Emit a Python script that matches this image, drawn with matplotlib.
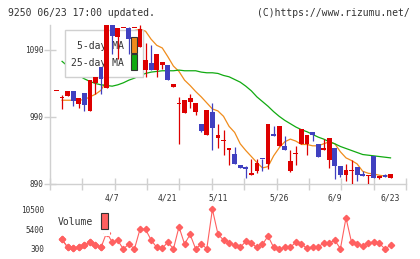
import numpy as np
import matplotlib
matplotlib.use("Agg")
import matplotlib.pyplot as plt
from matplotlib.patches import Rectangle

# daily candles (61 days, index 0..60)
opens = [1029, 1019, 1022, 1029, 1010, 1026, 999, 1040, 1065, 1034,
         1127, 1110, 1123, 1123, 1123, 1095, 1060, 1070, 1060, 1068,
         1068, 1035, 1009, 996, 1013, 998, 980, 963, 997, 959,
         955, 940, 935, 918, 916, 904, 909, 928, 920, 965,
         946, 946, 909, 935, 949, 949, 968, 950, 941, 926,
         944, 917, 904, 910, 915, 905, 902, 932, 899.5, 904,
         899.5]
closes = [1029, 1020, 1029, 1014, 1019, 1008, 1045, 1050, 1046, 1127,
          1111, 1123, 1123, 1106, 1123, 1122, 1075, 1060, 1084, 1072,
          1045, 1039, 1011, 1015, 1018, 1011, 969, 1000, 974, 963,
          956, 944, 920, 914, 913, 907, 922, 927, 980, 961,
          977, 940, 924, 936, 972, 963, 963, 930, 943, 959,
          917, 904, 911, 911, 904, 901.5, 903, 899, 902.5, 901,
          905.5]
highs = [1029, 1023, 1029, 1029, 1019, 1026, 1045, 1050, 1065, 1127,
         1127, 1123, 1123, 1124, 1123, 1127, 1101, 1097, 1084, 1072,
         1068, 1039, 1020, 1015, 1025, 1011, 980, 1000, 1011, 980,
         970, 944, 945, 918, 917, 928, 928, 928, 980, 977,
         977, 961, 941, 947, 972, 963, 968, 950, 957, 959,
         944, 917, 920, 926, 915, 910, 903, 932, 902.5, 905,
         905.5]
lows = [1029, 1002, 1022, 1006, 1003, 999, 999, 1025, 1025, 1034,
        1084, 1076, 1123, 1084, 1123, 1095, 1050, 1060, 1050, 1061,
        1045, 1035, 949, 996, 1004, 993, 968, 963, 940, 943,
        934, 919, 920, 914, 899, 904, 907, 909, 912, 961,
        946, 940, 908, 919, 949, 934, 954, 930, 941, 914,
        898, 900, 894, 890, 895, 901.5, 890, 899, 898, 901,
        899.5]

# moving averages (none for the first day)
ma5 = [np.nan, 1015, 1015, 1015, 1015, 1016, 1020, 1024, 1030, 1045,
       1065, 1090, 1108, 1116, 1119, 1121, 1118, 1106, 1097, 1093,
       1080, 1066, 1058, 1045, 1037, 1028, 1020, 1011, 1002, 999,
       991, 976, 967, 950, 940, 931, 922, 914, 916, 932,
       944, 953, 957, 954, 949, 949, 947, 947, 950, 953,
       950, 938, 929, 925, 920, 909, 906, 905, 903, 902,
       902]
ma25 = [np.nan, 1073, 1066, 1059, 1052, 1047, 1043, 1040, 1038, 1037,
        1036, 1038, 1041, 1045, 1048, 1052, 1055, 1057, 1058, 1059,
        1059, 1059, 1060, 1059, 1059, 1059, 1057, 1056, 1056, 1055,
        1052, 1050, 1046, 1042, 1036, 1029, 1020, 1013, 1006, 998,
        991, 985, 980, 975, 971, 968, 964, 960, 957, 953,
        950, 946, 943, 940, 937, 934, 933, 932, 931, 930,
        929]

volume = [np.nan, 2765, 725, 470, 725, 1320, 2000, 1235, 725, 4500,
          2085, 2510, 300, 1575, 300, 5400, 5315, 2595, 725, 470,
          2085, 300, 5995, 1575, 4040, 300, 1575, 385, 10500, 4125,
          2595, 1915, 1320, 725, 2255, 1745, 725, 1490, 3615, 725,
          300, 725, 725, 2085, 1575, 470, 895, 895, 1745, 1915,
          2510, 385, 8290, 2000, 1575, 1150, 1915, 2085, 1745, 300,
          1235]

date_pos = [10, 20, 29, 40, 50, 60]
date_labels = ["4/7", "4/21", "5/11", "5/26", "6/9", "6/23"]
price_ticks = [890, 990, 1090]
vol_ticks = [300, 5400, 10500]

RED = "#dd0000"
BLUE = "#4040c0"
ORANGE = "#f08c1c"
GREEN = "#11aa11"
VOLC = "#ff6060"
GRID = "#d0d0d0"
TXT = "#333333"
MONO = "DejaVu Sans Mono"

W, H = 420, 259
fig = plt.figure(figsize=(W / 100, H / 100), dpi=100)


def px_axes(x0, y0, x1, y1):
    return fig.add_axes([x0 / W, 1 - y1 / H, (x1 - x0) / W, (y1 - y0) / H])


x = np.arange(len(opens))
xmin, xmax = -1.17, 62.78

ax = px_axes(50, 25, 406, 184)
ax.set_xlim(xmin, xmax)
ax.set_ylim(890, 1127.3)
for s in ["top", "right"]:
    ax.spines[s].set_visible(False)
for s in ["left", "bottom"]:
    ax.spines[s].set_color(GRID)
    ax.spines[s].set_linewidth(1)

ax.plot(x, ma5, color=ORANGE, lw=0.9, zorder=2)
ax.plot(x, ma25, color=GREEN, lw=0.9, zorder=2)

# legend box (under the candles)
ax.add_patch(Rectangle((15 / 356, 107 / 159), 78 / 356, 47 / 159,
                       transform=ax.transAxes, facecolor="white",
                       edgecolor=GRID, lw=1, zorder=3))
ax.text(74 / 356, (184 - 46) / 159, "5-day MA", transform=ax.transAxes,
        ha="right", va="center", fontsize=7, family=MONO, color=TXT, zorder=3.5)
ax.text(74 / 356, (184 - 63) / 159, "25-day MA", transform=ax.transAxes,
        ha="right", va="center", fontsize=7, family=MONO, color=TXT, zorder=3.5)
ax.add_patch(Rectangle((81 / 356, (184 - 52.7) / 159), 6 / 356, 15.7 / 159,
                       transform=ax.transAxes, facecolor=ORANGE,
                       edgecolor="#333333", lw=0.8, zorder=3.5))
ax.add_patch(Rectangle((81 / 356, (184 - 70) / 159), 6 / 356, 15.7 / 159,
                       transform=ax.transAxes, facecolor=GREEN,
                       edgecolor="#333333", lw=0.8, zorder=3.5))

# candles
bw = 0.86
for i in range(len(opens)):
    o, c, h, l = opens[i], closes[i], highs[i], lows[i]
    col = RED if c >= o else BLUE
    ax.vlines(i, l, h, color=col, lw=0.9, zorder=4)
    lo, hi = min(o, c), max(o, c)
    if hi - lo < 1.5:
        lo, hi = (o + c) / 2 - 0.75, (o + c) / 2 + 0.75
    ax.add_patch(Rectangle((i - bw / 2, lo), bw, hi - lo, facecolor=col,
                           edgecolor="none", zorder=5))

ax.set_yticks(price_ticks)
ax.set_yticklabels([str(v) for v in price_ticks], family=MONO, fontsize=5.6, color=TXT)
ax.tick_params(axis="y", direction="inout", length=8, width=1, color=GRID, pad=1)
xt = np.linspace(xmin, xmax, 12)
ax.set_xticks(xt)
ax.set_xticklabels([])
ax.tick_params(axis="x", direction="inout", length=8, width=1, color=GRID)
for p, lab in zip(date_pos, date_labels):
    ax.text(p, -0.09, lab, transform=ax.get_xaxis_transform(), ha="center",
            va="center", fontsize=5.8, family=MONO, color=TXT)

# volume panel
vx = px_axes(50, 205, 406, 252)
vx.set_xlim(xmin, xmax)
vx.set_ylim(-471, 11605)
for s in vx.spines.values():
    s.set_visible(False)
vx.plot(x, volume, color=VOLC, lw=0.8, marker="D", ms=3.2, mec=VOLC, mfc=VOLC, zorder=2)
vx.set_xticks([])
vx.set_yticks(vol_ticks)
vx.set_yticklabels([str(v) for v in vol_ticks], family=MONO, fontsize=5.6, color=TXT)
vx.tick_params(axis="y", length=0, pad=4.3)
# white legend area hides the volume line behind it
vx.add_patch(Rectangle((6 / 356, (252 - 236) / 47), 104 / 356 - 6 / 356, 26 / 47,
                       transform=vx.transAxes, facecolor="white", edgecolor="none",
                       zorder=1.5))
vx.plot(x[:9], volume[:9], color=VOLC, lw=0.8, marker="D", ms=3.2, mec=VOLC,
        mfc=VOLC, zorder=2.5)
vx.add_patch(Rectangle((54 / 356, (252 - 236) / 47), 6 / 356, 26 / 47,
                       transform=vx.transAxes, facecolor="white", edgecolor="none",
                       zorder=3))
vx.text(8 / 356, (252 - 222.3) / 47, "Volume", transform=vx.transAxes, ha="left",
        va="center", fontsize=7, family=MONO, color=TXT, zorder=4)
vx.add_patch(Rectangle((51 / 356, (252 - 228.7) / 47), 6.5 / 356, 16 / 47,
                       transform=vx.transAxes, facecolor=VOLC,
                       edgecolor="#333333", lw=0.8, zorder=4))

fig.text(8 / W, 1 - 12.7 / H, "9250 06/23 17:00 updated.", ha="left", va="center",
         fontsize=7, family=MONO, color=TXT)
fig.text(410 / W, 1 - 12.7 / H, "(C)https://www.rizumu.net/", ha="right", va="center",
         fontsize=7, family=MONO, color=TXT)

fig.savefig("out.png", dpi=100, facecolor="white")
